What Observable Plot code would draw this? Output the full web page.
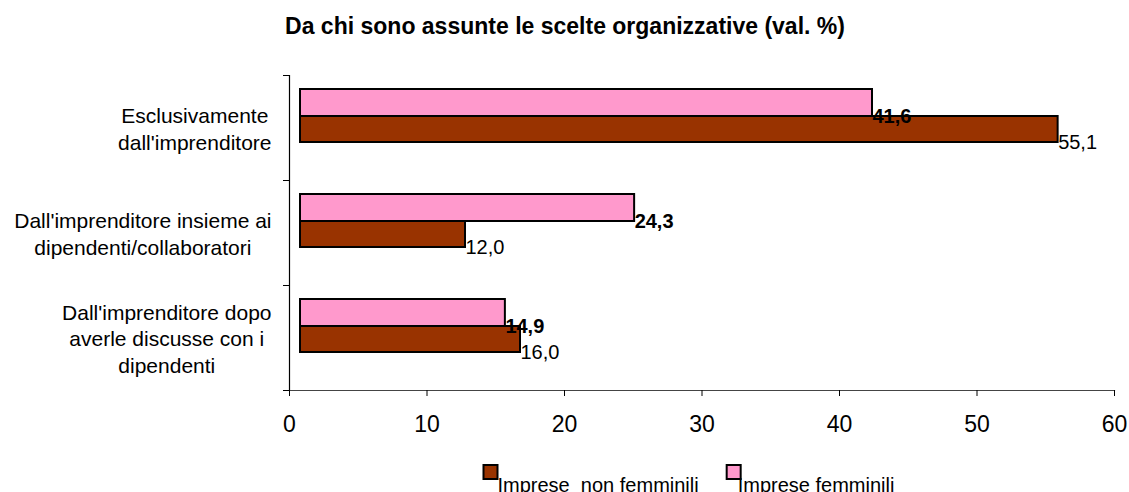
<!DOCTYPE html>
<html>
<head>
<meta charset="utf-8">
<script src="https://cdn.jsdelivr.net/npm/d3@7"></script>
<script src="https://cdn.jsdelivr.net/npm/@observablehq/plot@0.6"></script>
<style>
  html, body { margin: 0; padding: 0; background: #fff; }
  #chart svg { display: block; }
</style>
</head>
<body>
<div id="chart"></div>
<script>
// ---- data ----
const title = "Da chi sono assunte le scelte organizzative (val. %)";
const categories = [
  "Esclusivamente dall'imprenditore",
  "Dall'imprenditore insieme ai dipendenti/collaboratori",
  "Dall'imprenditore dopo averle discusse con i dipendenti"
];
const categoryLabels = [
  "Esclusivamente\ndall'imprenditore",
  "Dall'imprenditore insieme ai\ndipendenti/collaboratori",
  "Dall'imprenditore dopo\naverle discusse con i\ndipendenti"
];
const seriesNames = ["Imprese  non femminili", "Imprese femminili"];
const nonFemminili = [55.1, 12.0, 16.0];
const femminili = [41.6, 24.3, 14.9];
const xTicks = [0, 10, 20, 30, 40, 50, 60];
const colors = ["#993300", "#FF99CC"];

// ---- layout / style ----
const W = 1129, H = 492;
const mL = 289, mR = 15, mT = 75, mB = 102;
const FONT = "'Liberation Sans', Arial, Helvetica, sans-serif";
const BAR_DX = 11;
const fmt = v => d3.format(".1f")(v).replace(".", ",");

const ctx = document.createElement("canvas").getContext("2d");
function textWidth(s, size, weight = "normal") {
  ctx.font = `${weight} ${size}px ${FONT}`;
  return ctx.measureText(s).width;
}

const rows = categories.flatMap((c, i) => [
  {category: c, series: seriesNames[0], value: nonFemminili[i]},
  {category: c, series: seriesNames[1], value: femminili[i]}
]);
const brownRows = rows.filter(d => d.series === seriesNames[0]);
const pinkRows = rows.filter(d => d.series === seriesNames[1]);

// category labels (centered multi-line blocks, right edge near the axis)
const CAT_SIZE = 21;
const catMarks = categories.map((c, i) => {
  const lines = categoryLabels[i].split("\n");
  const maxW = d3.max(lines, l => textWidth(l, CAT_SIZE));
  return Plot.text([{category: c, label: categoryLabels[i]}], {
    y: "category", text: "label", frameAnchor: "left",
    textAnchor: "middle", lineAnchor: "middle", lineHeight: 1.25,
    fontSize: CAT_SIZE, fill: "#000", dx: -18 - maxW / 2
  });
});

// title centered on the whole chart
const frameCenter = mL + (W - mL - mR) / 2;
const titleMark = Plot.text([title], {
  frameAnchor: "top", textAnchor: "middle", lineAnchor: "middle",
  fontSize: 23, fontWeight: "bold", fill: "#000",
  dx: W / 2 - frameCenter, dy: -49
});

// legend
const LEG_SIZE = 20;
const sqLeft1 = 483, sq = 14;
const t1Left = sqLeft1 + sq;
const w1 = textWidth(seriesNames[0], LEG_SIZE);
const sqLeft2 = t1Left + w1 + 28;
const t2Left = sqLeft2 + sq - 3;
const legendMarks = [];
[[sqLeft1, t1Left], [sqLeft2, t2Left]].forEach(([sl, tl], i) => {
  legendMarks.push(Plot.dot([seriesNames[i]], {
    frameAnchor: "bottom-left", symbol: "square", r: sq / Math.sqrt(Math.PI),
    fill: colors[i], stroke: "#000", strokeWidth: 2,
    dx: sl + sq / 2 - mL, dy: 471.5 - (H - mB)
  }));
  legendMarks.push(Plot.text([seriesNames[i]], {
    frameAnchor: "bottom-left", textAnchor: "start", lineAnchor: "top",
    fontSize: LEG_SIZE, fill: "#000",
    dx: tl - mL, dy: 477 - (H - mB)
  }));
});

const chart = Plot.plot({
  width: W, height: H,
  marginLeft: mL, marginRight: mR, marginTop: mT, marginBottom: mB,
  style: {fontFamily: FONT, background: "#fff", color: "#000"},
  x: {domain: [0, 60], axis: null, label: null},
  y: {domain: categories, padding: 0, axis: null, label: null},
  marks: [
    Plot.barX(pinkRows, {x1: 0, x2: "value", y: "category", fill: colors[1],
      stroke: "#000", strokeWidth: 2, insetTop: 14, insetBottom: 64, dx: BAR_DX}),
    Plot.barX(brownRows, {x1: 0, x2: "value", y: "category", fill: colors[0],
      stroke: "#000", strokeWidth: 2, insetTop: 41, insetBottom: 38, dx: BAR_DX}),
    Plot.text(pinkRows, {x: "value", y: "category", text: d => fmt(d.value),
      textAnchor: "start", lineAnchor: "middle", dx: BAR_DX, dy: -11.5,
      fontSize: 20, fontWeight: "bold", fill: "#000"}),
    Plot.text(brownRows, {x: "value", y: "category", text: d => fmt(d.value),
      textAnchor: "start", lineAnchor: "middle", dx: BAR_DX, dy: 14.5,
      fontSize: 20, fill: "#000"}),
    Plot.frame({anchor: "left", stroke: "#000", strokeWidth: 1.2}),
    Plot.frame({anchor: "bottom", stroke: "#444", strokeWidth: 1.2}),
    Plot.axisY({tickSize: 6, tickFormat: () => "", label: null, dy: -52.5, stroke: "#000"}),
    Plot.axisY({tickSize: 6, tickFormat: () => "", label: null, dy: 52.5, stroke: "#000"}),
    Plot.axisX({ticks: xTicks, tickSize: 6, tickPadding: 19, fontSize: 23, label: null,
      tickFormat: d => String(d), stroke: "#000", fill: "#000"}),
    ...catMarks,
    titleMark,
    ...legendMarks
  ]
});
document.getElementById("chart").append(chart);
</script>
</body>
</html>
